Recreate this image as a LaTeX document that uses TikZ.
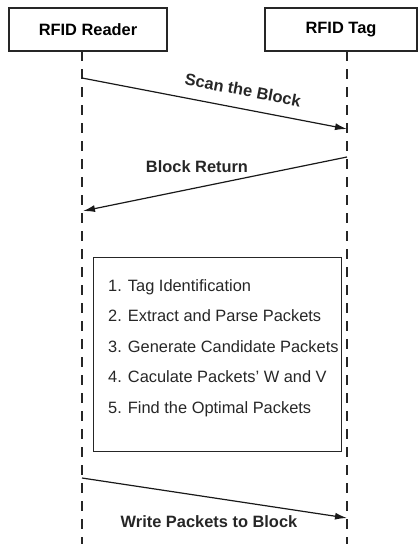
\documentclass[tikz,border=0pt]{standalone}
\usepackage{fontspec}
\setmainfont{Liberation Sans}
\usetikzlibrary{arrows.meta}
\begin{document}
\begin{tikzpicture}[x=1pt,y=-1pt,
  actor/.style={draw=black!85,line width=1.2pt,rectangle,inner sep=0pt,
    font=\fontsize{16.4}{19}\selectfont\bfseries},
  lifeline/.style={draw=black!85,line width=1.2pt,dash pattern=on 10pt off 8pt},
  msg/.style={draw=black!90,line width=1.2pt,-{Latex[length=12pt,width=7pt]}},
  msglabel/.style={font=\fontsize{16.4}{19}\selectfont\bfseries,text=black!85,inner sep=0pt},
  stepbox/.style={draw=black!85,line width=1.3pt,rectangle,inner sep=0pt},
  steplist/.style={font=\fontsize{16.4}{30.5}\selectfont,text=black!85,align=left,inner sep=0pt}]
\useasboundingbox (0,0) rectangle (418,544);

% participants
\node[actor,minimum width=158pt,minimum height=43pt] (reader) at (88,29.5) {RFID Reader};
\node[actor,minimum width=152pt,minimum height=43pt] (tag) at (341,29.5) {\raisebox{2pt}{RFID Tag}};

% lifelines
\coordinate (rtop) at (82,51);
\coordinate (rbot) at (82,544);
\coordinate (ttop) at (347,51);
\coordinate (tbot) at (347,544);
\draw[lifeline] (rtop) -- (rbot);
\draw[lifeline] (ttop) -- (tbot);

% message end points on the lifelines
\coordinate (m1s) at (82,78);
\coordinate (m1e) at (347,129);
\coordinate (m2s) at (347,157);
\coordinate (m2e) at (83,211);
\coordinate (m3s) at (82,478);
\coordinate (m3e) at (347,518);

% messages
\draw[msg] (m1s) -- (m1e);
\node[msglabel,rotate=-10.9] (l1) at (243,90) {Scan the Block};
\draw[msg] (m2s) -- (m2e);
\node[msglabel] (l2) at (197,167) {Block Return};
\draw[msg] (m3s) -- (m3e);
\node[msglabel] (l3) at (209,522) {Write Packets to Block};

% processing steps on the reader
\node[stepbox,minimum width=248pt,minimum height=194pt] (steps) at (217.5,354.5) {};
\node[steplist,anchor=north west] (list) at (108,279) {%
1. Tag Identification\\
2. Extract and Parse Packets\\
3. Generate Candidate Packets\\
4. Caculate Packets' W and V\\
5. Find the Optimal Packets};
\end{tikzpicture}
\end{document}
